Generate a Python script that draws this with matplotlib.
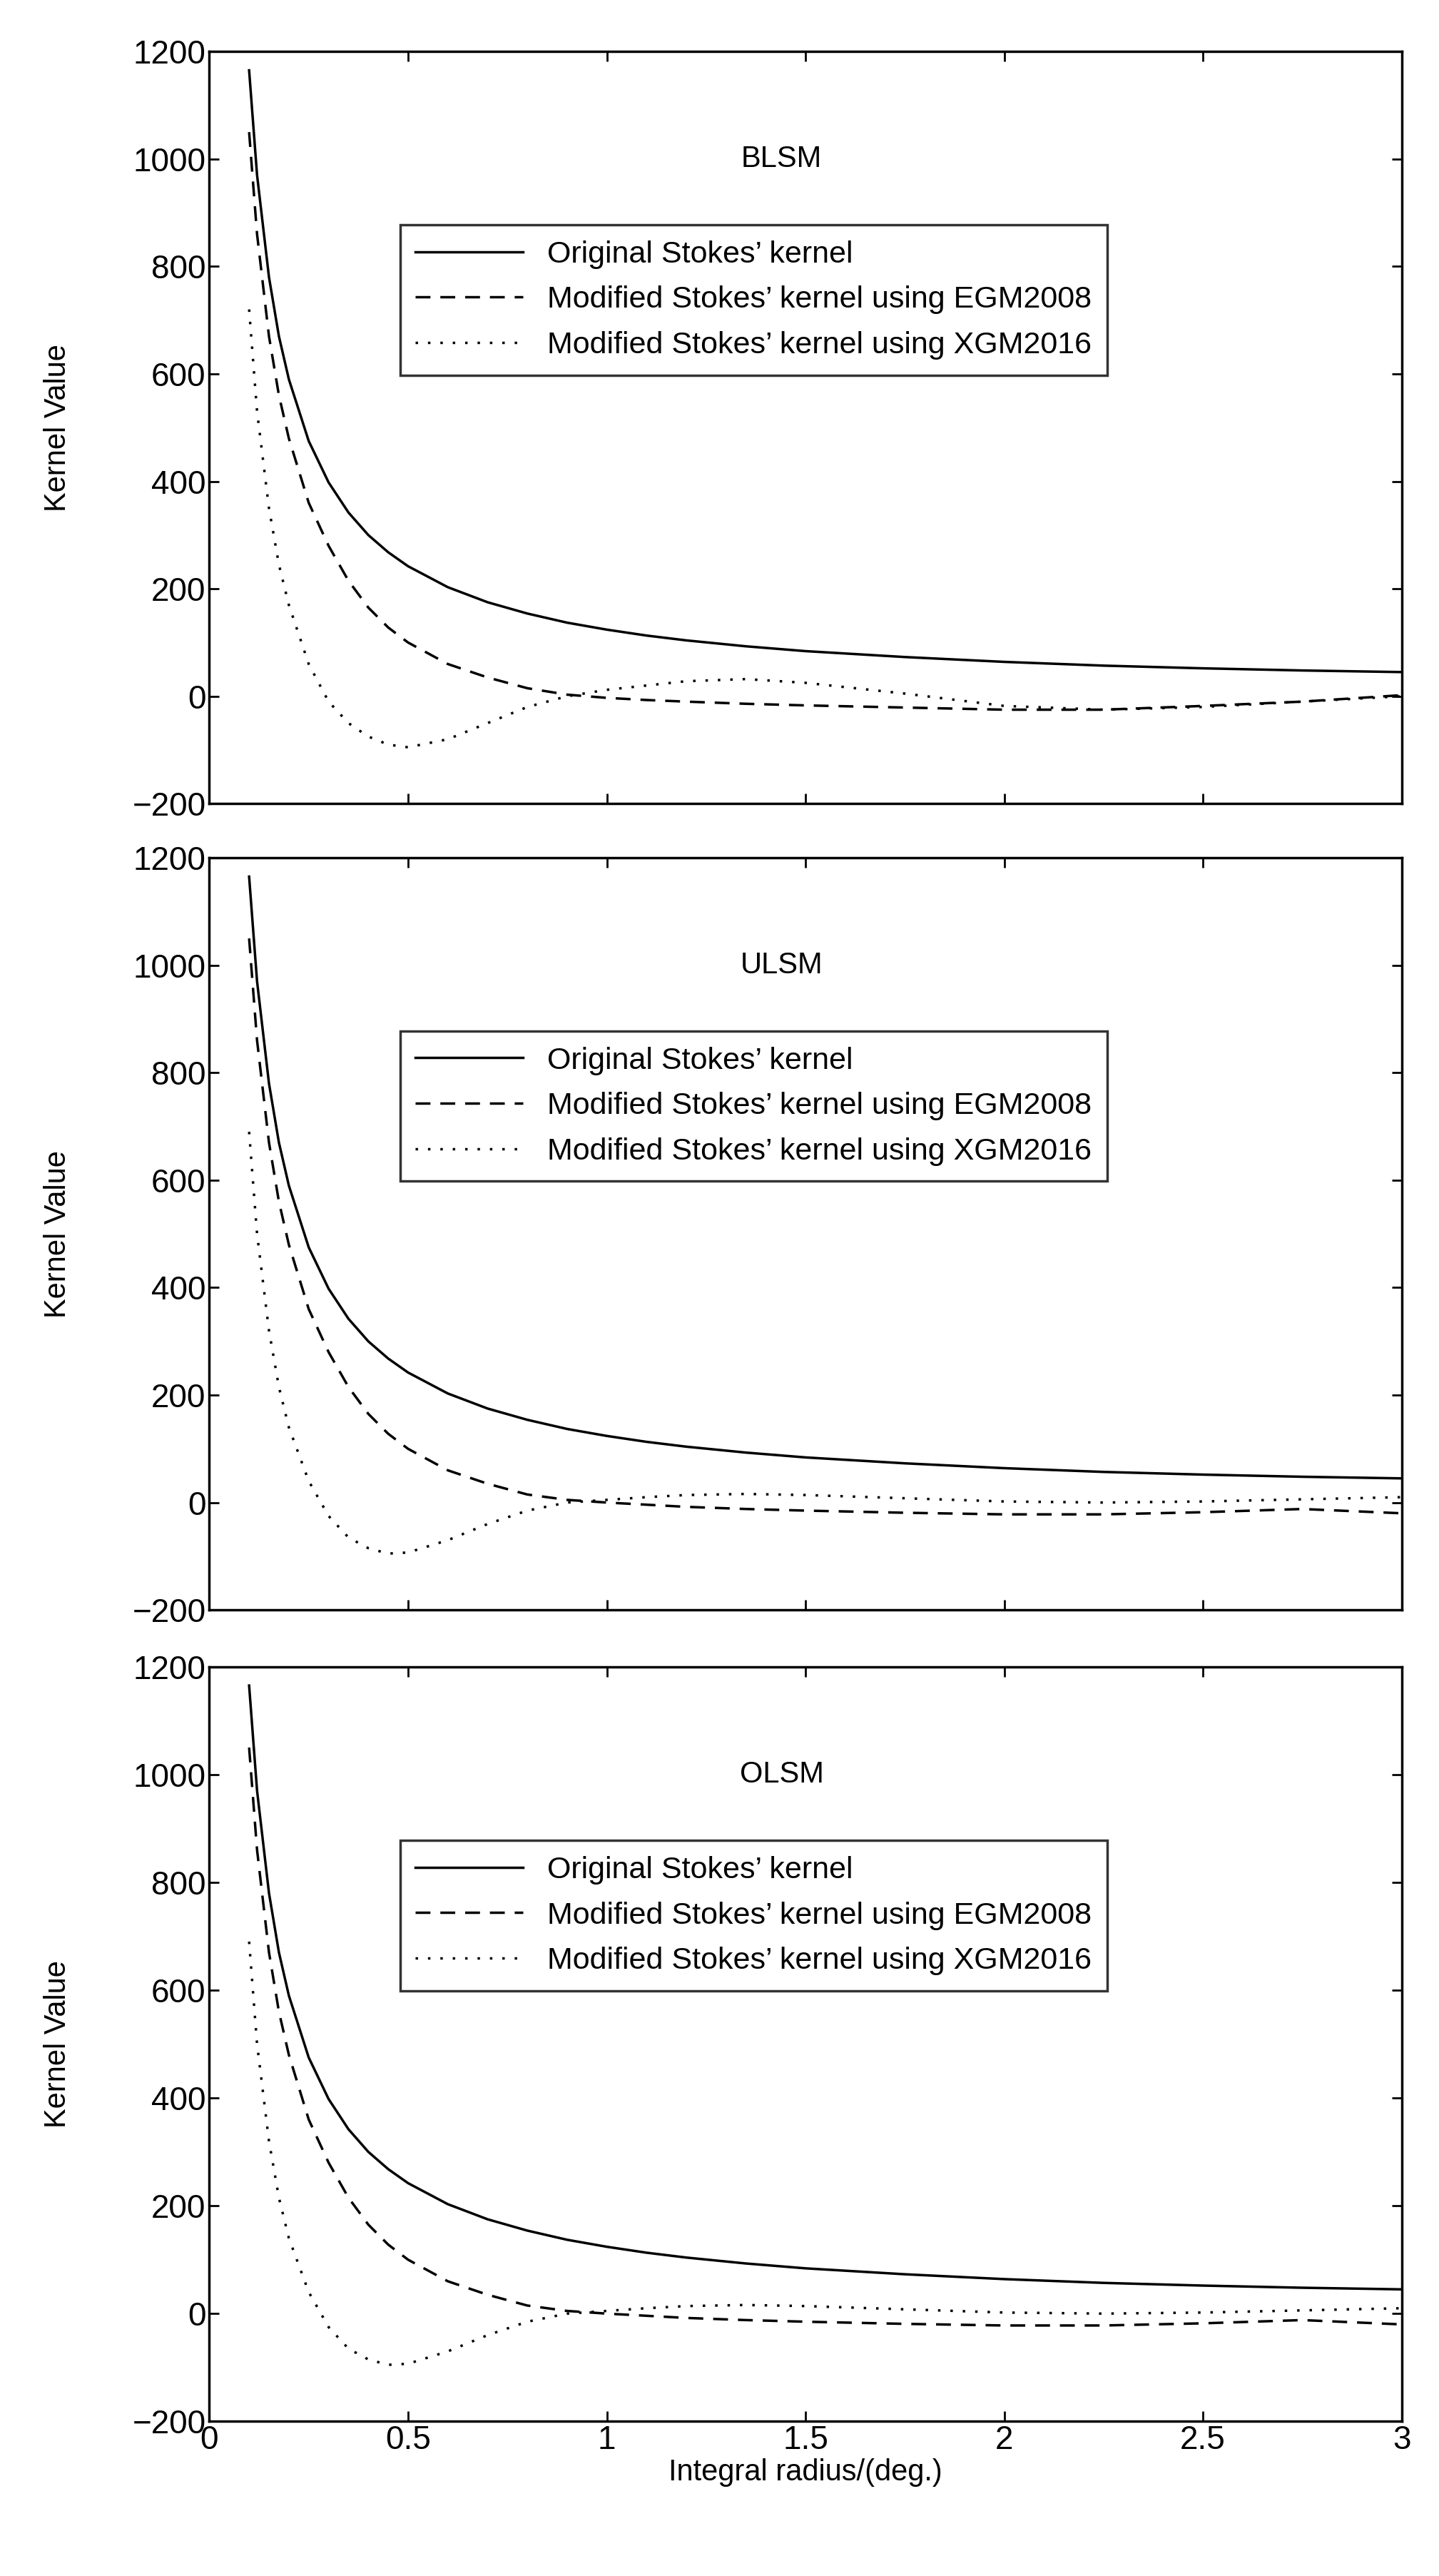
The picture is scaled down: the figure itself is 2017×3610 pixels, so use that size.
import matplotlib
matplotlib.use("Agg")
import matplotlib.pyplot as plt

plt.rcParams['font.family'] = ['Liberation Sans', 'DejaVu Sans']

psi = [0.1, 0.12, 0.15, 0.175, 0.2, 0.25, 0.3, 0.35, 0.4, 0.45, 0.5, 0.6, 0.7, 0.8, 0.9, 1.0,
       1.1, 1.2, 1.35, 1.5, 1.75, 2.0, 2.25, 2.5, 2.75, 3.0]
original = [1165, 970, 780, 670, 590, 475, 398, 342, 300, 268, 242, 203, 175, 154, 137, 124,
            113, 104, 93, 84, 73, 64, 57, 52, 48, 45]

egm_blsm = [1050, 860, 670, 560, 480, 360, 280, 215, 165, 128, 100, 60, 35, 15, 3, -3,
            -7, -10, -14, -17, -21, -25, -25, -18, -10, 2]
xgm_blsm = [720, 530, 350, 245, 170, 60, -10, -50, -75, -90, -95, -80, -50, -20, 0, 12,
            20, 28, 32, 25, 5, -18, -25, -20, -10, 0]

egm_ulsm = [1050, 860, 670, 560, 480, 360, 280, 215, 165, 128, 100, 60, 35, 15, 5, 0,
            -4, -8, -12, -15, -19, -22, -22, -18, -12, -20]
xgm_ulsm = [690, 500, 320, 215, 140, 40, -25, -65, -85, -95, -93, -70, -40, -15, 0, 5,
            10, 14, 16, 14, 8, 2, 0, 2, 6, 10]

egm_olsm = egm_ulsm
xgm_olsm = xgm_ulsm

titles = ['BLSM', 'ULSM', 'OLSM']
egm_sets = [egm_blsm, egm_ulsm, egm_olsm]
xgm_sets = [xgm_blsm, xgm_ulsm, xgm_olsm]
labels = ["Original Stokes\u2019 kernel",
          "Modified Stokes\u2019 kernel using EGM2008",
          "Modified Stokes\u2019 kernel using XGM2016"]

fig = plt.figure(figsize=(20.17, 36.10), dpi=100)
boxes = [(0.688, 0.980), (0.375, 0.667), (0.060, 0.353)]
left, right = 0.1455, 0.974
for i, (b, t) in enumerate(boxes):
    ax = fig.add_axes([left, b, right - left, t - b])
    ax.plot(psi, original, 'k-', lw=2.5, label=labels[0])
    ax.plot(psi, egm_sets[i], 'k', lw=2.5, ls=(0, (6, 4)), label=labels[1])
    ax.plot(psi, xgm_sets[i], 'k', lw=2.5, ls=(0, (1, 4)), label=labels[2])
    ax.set_xlim(0, 3)
    ax.set_ylim(-200, 1200)
    ax.set_yticks(range(-200, 1201, 200))
    ax.set_xticks([0, 0.5, 1, 1.5, 2, 2.5, 3])
    ax.tick_params(direction='in', labelsize=33, length=10, width=2, top=True, right=True)
    for s in ax.spines.values():
        s.set_linewidth(2.5)
    ax.set_ylabel('Kernel Value', fontsize=30)
    ax.yaxis.set_label_coords(-0.115, 0.5)
    if i < 2:
        ax.set_xticklabels([])
    else:
        ax.set_xticklabels(['0', '0.5', '1', '1.5', '2', '2.5', '3'])
        ax.set_xlabel('Integral radius/(deg.)', fontsize=30, labelpad=2)
    ax.text(0.48, 0.857, titles[i], transform=ax.transAxes, fontsize=30, ha='center', va='center')
    leg = ax.legend(loc='upper left', bbox_to_anchor=(0.147, 0.79), fontsize=31,
                    frameon=True, fancybox=False, edgecolor='k', handlelength=3.5,
                    borderpad=0.5, labelspacing=0.55)
    leg.get_frame().set_linewidth(2.5)

fig.savefig('out.png', dpi=100)
